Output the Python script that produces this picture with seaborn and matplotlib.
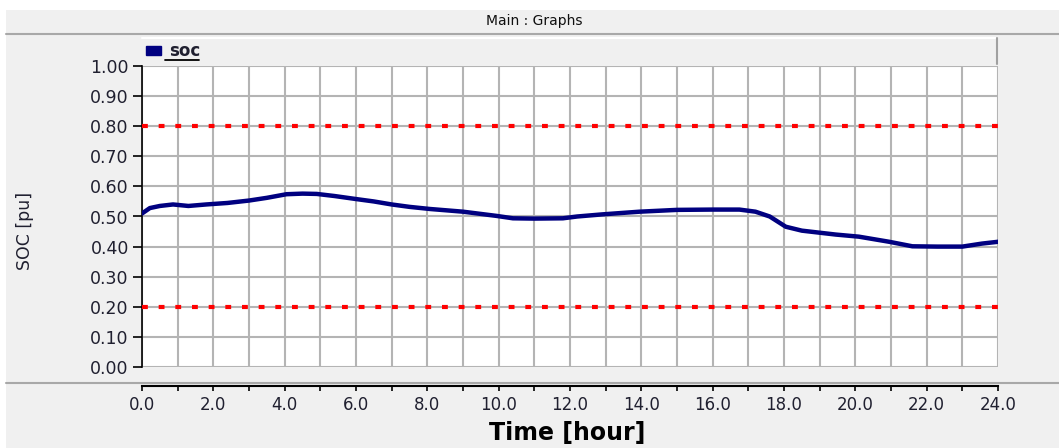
import numpy as np
import pandas as pd
import matplotlib
matplotlib.use("Agg")
import matplotlib.pyplot as plt
from matplotlib.lines import Line2D
from matplotlib.patches import Rectangle, Patch
from matplotlib.ticker import MultipleLocator, FormatStrFormatter
import seaborn as sns

# data (hour, state of charge in pu)
time_h = [0.0, 0.22, 0.5, 0.87, 1.3, 1.8, 2.4, 3.0, 3.5, 4.05, 4.5, 4.9, 5.4,
          6.0, 6.5, 7.0, 7.5, 8.07, 9.0, 9.94, 10.4, 11.0, 11.8, 12.2, 12.9,
          13.95, 15.0, 16.0, 16.75, 17.2, 17.6, 18.05, 18.5, 19.45, 20.1,
          20.95, 21.6, 22.3, 23.0, 23.55, 24.0]
soc = [0.510, 0.528, 0.535, 0.540, 0.535, 0.540, 0.545, 0.553, 0.562, 0.574,
       0.576, 0.575, 0.568, 0.558, 0.550, 0.540, 0.532, 0.525, 0.516, 0.502,
       0.494, 0.493, 0.494, 0.500, 0.507, 0.516, 0.522, 0.523, 0.523, 0.516,
       0.500, 0.466, 0.453, 0.440, 0.433, 0.416, 0.401, 0.400, 0.400, 0.410,
       0.416]
soc_limits = [0.8, 0.2]
y_ticks = np.arange(0, 1.01, 0.1)

df = pd.DataFrame({"time": time_h, "soc": soc})

sns.set_style("white")
plt.rcParams["font.family"] = ["DejaVu Sans"]

W, H = 1059, 448
BG = "#f0f0f0"
NAVY = "#000080"
TXT = "#202030"

fig = plt.figure(figsize=(W / 100, H / 100), dpi=100, facecolor=BG)


def px(x, y):
    return x / W, 1 - y / H


# white margins + separators (kept behind the axes)
fig.add_artist(Rectangle((0, 1 - 10 / H), 1, 10 / H, transform=fig.transFigure,
                         facecolor="white", edgecolor="none", zorder=-2))
fig.add_artist(Rectangle((0, 0), 6 / W, 1, transform=fig.transFigure,
                         facecolor="white", edgecolor="none", zorder=-2))
fig.add_artist(Line2D([6 / W, 1], [1 - 34.5 / H] * 2, transform=fig.transFigure,
                      color="#a8a8a8", lw=1.5, zorder=-1))
fig.add_artist(Line2D([6 / W, 1], [1 - 383 / H] * 2, transform=fig.transFigure,
                      color="#a8a8a8", lw=1.5, zorder=-1))
fig.text(*px(534, 21), "Main : Graphs", ha="center", va="center",
         fontsize=10, color="#101010")

# legend strip edges above the plot
fig.add_artist(Line2D([142 / W, 997 / W], [1 - 38.5 / H] * 2,
                      transform=fig.transFigure, color="white", lw=1.5, zorder=-1))
fig.add_artist(Line2D([997 / W] * 2, [1 - 38 / H, 1 - 64 / H],
                      transform=fig.transFigure, color="#a0a0a0", lw=1.5, zorder=-1))

ax = fig.add_axes([142 / W, (H - 367) / H, 856 / W, 301 / H])
ax.set_facecolor("white")

for lim in soc_limits:
    ax.axhline(lim, color="#ff0000", lw=3.0, dashes=(1.4, 2.6),
               dash_capstyle="butt", zorder=3)

sns.lineplot(data=df, x="time", y="soc", ax=ax, color=NAVY, lw=3.2,
             legend=False, zorder=4)

ax.set_xlim(0, 24)
ax.set_ylim(0, 1)
ax.xaxis.set_major_locator(MultipleLocator(2))
ax.xaxis.set_minor_locator(MultipleLocator(1))
ax.xaxis.set_major_formatter(FormatStrFormatter("%.1f"))
ax.set_yticks(y_ticks)
ax.yaxis.set_major_formatter(FormatStrFormatter("%.2f"))

ax.grid(True, which="both", color="#b4b4b4", lw=1.5)
ax.set_axisbelow(True)

for s in ["top", "right"]:
    ax.spines[s].set_visible(False)
ax.spines["left"].set_color("black")
ax.spines["left"].set_linewidth(1.2)
ax.spines["bottom"].set_position(("outward", 14))
ax.spines["bottom"].set_color("black")
ax.spines["bottom"].set_linewidth(1.5)

ax.tick_params(axis="y", which="major", left=True, length=6.5, width=1.2,
               color="black", pad=3, labelsize=12.5, labelcolor=TXT)
ax.tick_params(axis="x", which="both", bottom=True, length=3.8, width=1.2,
               color="black", direction="out")
ax.tick_params(axis="x", which="major", pad=3, labelsize=12, labelcolor=TXT)

ax.set_xlabel("")
ax.set_ylabel("")
fig.text(*px(25, 231), "SOC [pu]", rotation=90, ha="center", va="center",
         fontsize=12.5, color=TXT)
fig.text(*px(567, 433), "Time [hour]", ha="center", va="center",
         fontsize=17, fontweight="bold", color="black")

# legend entry
leg = ax.legend(handles=[Patch(facecolor=NAVY, edgecolor=NAVY, label="soc")],
                loc="lower left", bbox_to_anchor=(0.0, 1.005), frameon=False,
                handlelength=0.9, handleheight=0.5, handletextpad=0.45,
                borderaxespad=0.0, borderpad=0.25,
                prop={"size": 12, "weight": "bold"})
for t in leg.get_texts():
    t.set_color(TXT)
fig.add_artist(Line2D([165 / W, 199 / W], [1 - 60 / H] * 2,
                      transform=fig.transFigure, color="black", lw=1.3))

fig.savefig("out.png", dpi=100, facecolor=BG)
